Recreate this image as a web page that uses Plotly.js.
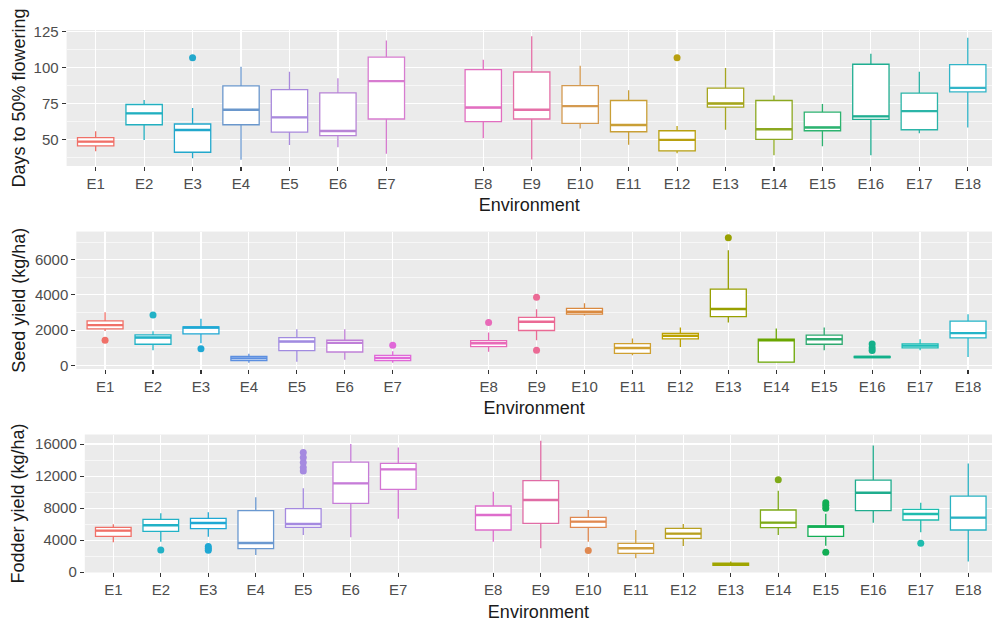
<!DOCTYPE html>
<html><head><meta charset="utf-8">
<script src="https://cdn.plot.ly/plotly-3.0.1.min.js"></script>
<style>html,body{margin:0;padding:0;background:#fff}#chart{width:992px;height:622px}</style>
</head><body><div id="chart"></div>
<script>
// ---------- categories ----------
const envs = ['E1','E2','E3','E4','E5','E6','E7','E8','E9','E10','E11','E12','E13','E14','E15','E16','E17','E18'];

// ---------- Days to 50% flowering ----------
const flowLo  = [41.7, 49.6, 36.8, 35.7, 46.1, 44.5, 39.9, 50.7, 35.9, 57.6, 46.3, 40.3, 56.7, 38.9, 45.2, 38.9, 54.2, 58.3];
const flowQ1  = [45.4, 60.2, 41.0, 60.2, 55.1, 52.6, 64.2, 62.3, 64.2, 61.1, 55.3, 42.0, 72.5, 50.0, 56.0, 63.9, 56.7, 83.1];
const flowMed = [48.4, 68.1, 56.5, 70.6, 65.3, 55.8, 90.6, 72.2, 70.6, 73.2, 60.0, 49.6, 75.0, 57.0, 58.3, 66.0, 69.7, 85.9];
const flowQ3  = [51.2, 74.3, 60.7, 87.3, 84.7, 82.4, 107.4, 98.6, 97.0, 87.5, 77.1, 56.0, 85.7, 77.1, 69.0, 102.4, 82.2, 102.1];
const flowHi  = [55.6, 77.4, 71.8, 100.7, 97.2, 92.6, 119.0, 105.6, 122.0, 101.4, 84.3, 59.3, 99.8, 80.6, 74.6, 109.7, 97.2, 120.8];
const flowOutEnv = ['E3','E12'];
const flowOutVal = [107, 107];
const flowColors = ['#F07068','#21AFC0','#22A8CC','#6A97CC','#A98ADD','#B884D6','#D77CD0','#E26EC0','#E570A8',
                    '#D49A50','#C99F36','#B8A010','#A6A61E','#8CA820','#2DB370','#1FAE91','#2BB5A8','#32B5C8'];

// ---------- Seed yield (kg/ha) ----------
const seedLo  = [1950, 857, 1250, 152, 210, 324, 150, 781, 1428, 2838, 571, 1048, 2438, 190, 857, 400, 857, 476];
const seedQ1  = [2076, 1200, 1790, 267, 838, 762, 267, 1067, 1981, 2914, 686, 1505, 2762, 190, 1200, 438, 990, 1562];
const seedMed = [2286, 1581, 2152, 400, 1352, 1276, 419, 1257, 2476, 3048, 990, 1676, 3200, 1428, 1486, 476, 1124, 1829];
const seedQ3  = [2531, 1733, 2190, 514, 1581, 1428, 571, 1409, 2724, 3238, 1238, 1810, 4324, 1486, 1714, 514, 1219, 2514];
const seedHi  = [3010, 1943, 2648, 667, 2057, 2057, 800, 1867, 3181, 3524, 1524, 2152, 6533, 2095, 2152, 550, 1486, 2895];
const seedOutEnv = ['E1','E2','E3','E7','E8','E9','E9','E13','E16','E16','E16'];
const seedOutVal = [1428, 2857, 952, 1143, 2438, 3867, 857, 7238, 1220, 1000, 850];
const seedColors = ['#F07068','#22B2C6','#1FA8D4','#5C8FE0','#A18BE0','#C080D8','#E068D8','#E86AB8','#EB6A95',
                    '#DA8A40','#CFA030','#BCA200','#98A000','#6AA600','#2EAA70','#13B08A','#20BDB8','#22B4C8'];

// ---------- Fodder yield (kg/ha) ----------
const fodLo  = [3740, 3823, 4447, 2161, 4655, 4364, 6691, 3823, 2992, 3823, 1746, 3283, 830, 4655, 3300, 6192, 4987, 1330];
const fodQ1  = [4488, 5112, 5444, 2951, 5610, 8603, 10348, 5278, 6109, 5610, 2369, 4239, 873, 5569, 4488, 7689, 6525, 5278];
const fodMed = [5195, 5860, 6151, 3657, 6026, 11097, 12842, 7148, 9018, 6317, 2992, 4821, 997, 6192, 5694, 9933, 7273, 6816];
const fodQ3  = [5610, 6608, 6733, 7689, 7938, 13756, 13590, 8270, 11429, 6857, 3616, 5486, 1122, 7772, 5777, 11512, 7855, 9517];
const fodHi  = [5985, 7356, 7481, 9351, 10473, 16000, 15585, 10057, 16416, 7772, 5278, 6026, 1330, 10182, 7300, 15834, 8686, 13590];
const fodOutEnv = ['E2','E3','E3','E3','E5','E5','E5','E5','E5','E10','E14','E15','E15','E15','E15','E17'];
const fodOutVal = [2785, 3200, 2950, 2750, 14962, 14338, 13715, 13091, 12634, 2701, 11554, 8686, 8353, 7980, 2494, 3616];
const fodColors = ['#F07068','#22B2C6','#1FA8D4','#6A98D0','#A58AE0','#C67CD8','#D374D3','#DE6DCC','#E06CA5',
                   '#E08850','#D0A040','#B8A020','#A0A500','#7EAA18','#12AE55','#20AD8E','#1FBCAE','#28B2C2'];

// ---------- build ----------
const FONT = 'Liberation Sans, Arial, sans-serif';
// category slot: E1..E7 then a one-slot gap before E8..E18
const slot = i => i + 1 + (i >= 7 ? 1 : 0);
const tickPos = envs.map((e, i) => slot(i));

const panels = [
  {lo: flowLo, q1: flowQ1, med: flowMed, q3: flowQ3, hi: flowHi, oe: flowOutEnv, ov: flowOutVal, col: flowColors,
   ytitle: 'Days to 50% flowering', yrange: [31.4, 126.3], dtick: 25, fmt: '', ydom: [0.7331, 0.9518], xleft: 66.6, standoff: 3},
  {lo: seedLo, q1: seedQ1, med: seedMed, q3: seedQ3, hi: seedHi, oe: seedOutEnv, ov: seedOutVal, col: seedColors,
   ytitle: 'Seed yield (kg/ha)', yrange: [-202, 7592], dtick: 2000, fmt: 'd', ydom: [0.4068, 0.6277], xleft: 76.3, standoff: 4},
  {lo: fodLo, q1: fodQ1, med: fodMed, q3: fodQ3, hi: fodHi, oe: fodOutEnv, ov: fodOutVal, col: fodColors,
   ytitle: 'Fodder yield (kg/ha)', yrange: [-30, 17195], dtick: 4000, fmt: 'd', ydom: [0.0796, 0.3014], xleft: 84.8, standoff: 5}
];

const W = 992;
const data = [];
const shapes = [];
const layout = {
  width: 992, height: 622,
  margin: {l: 0, r: 0, t: 0, b: 0},
  paper_bgcolor: '#FFFFFF',
  plot_bgcolor: '#EBEBEB',
  showlegend: false,
  boxmode: 'overlay',
  hovermode: false,
  font: {family: FONT, color: '#4D4D4D'},
  shapes: shapes
};

panels.forEach((p, k) => {
  const sfx = k === 0 ? '' : String(k + 1);
  const xa = 'x' + sfx, ya = 'y' + sfx;
  envs.forEach((e, i) => {
    const pos = slot(i);
    data.push({
      type: 'box', x: [pos], q1: [p.q1[i]], median: [p.med[i]], q3: [p.q3[i]],
      lowerfence: [p.lo[i]], upperfence: [p.hi[i]],
      width: 0.75, whiskerwidth: 0, boxpoints: false,
      fillcolor: '#FFFFFF', line: {color: p.col[i], width: 1.3},
      xaxis: xa, yaxis: ya, hoverinfo: 'skip', showlegend: false
    });
    shapes.push({type: 'line', xref: xa, yref: ya, x0: pos - 0.375, x1: pos + 0.375,
                 y0: p.med[i], y1: p.med[i], line: {color: p.col[i], width: 2.4}});
  });
  data.push({
    type: 'scatter', mode: 'markers',
    x: p.oe.map(e => slot(envs.indexOf(e))), y: p.ov,
    marker: {size: 7, color: p.oe.map(e => p.col[envs.indexOf(e)])},
    xaxis: xa, yaxis: ya, hoverinfo: 'skip', showlegend: false, cliponaxis: false
  });
  layout['xaxis' + sfx] = {
    domain: [p.xleft / W, 1], range: [0.4, 19.5], anchor: ya,
    tickmode: 'array', tickvals: tickPos, ticktext: envs,
    ticks: 'outside', ticklen: 4, tickwidth: 1.1, tickcolor: '#333333',
    tickfont: {family: FONT, size: 15, color: '#4D4D4D'},
    showgrid: true, gridcolor: '#FFFFFF', gridwidth: 1.2,
    zeroline: false, showline: false, fixedrange: true,
    title: {text: 'Environment', font: {family: FONT, size: 18, color: '#1A1A1A'}, standoff: 7}
  };
  layout['yaxis' + sfx] = {
    domain: p.ydom, range: p.yrange, anchor: xa,
    tick0: 0, dtick: p.dtick, tickformat: p.fmt,
    ticks: 'outside', ticklen: 4, tickwidth: 1.1, tickcolor: '#333333',
    tickfont: {family: FONT, size: 15, color: '#4D4D4D'},
    showgrid: true, gridcolor: '#FFFFFF', gridwidth: 1.2,
    minor: {dtick: p.dtick / 2, tick0: 0, showgrid: true, gridcolor: '#FFFFFF', gridwidth: 0.6, ticks: ''},
    zeroline: false, showline: false, fixedrange: true,
    title: {text: p.ytitle, font: {family: FONT, size: 18, color: '#1A1A1A'}, standoff: p.standoff}
  };
});

Plotly.newPlot('chart', data, layout, {staticPlot: true, displayModeBar: false});
</script>
</body></html>
